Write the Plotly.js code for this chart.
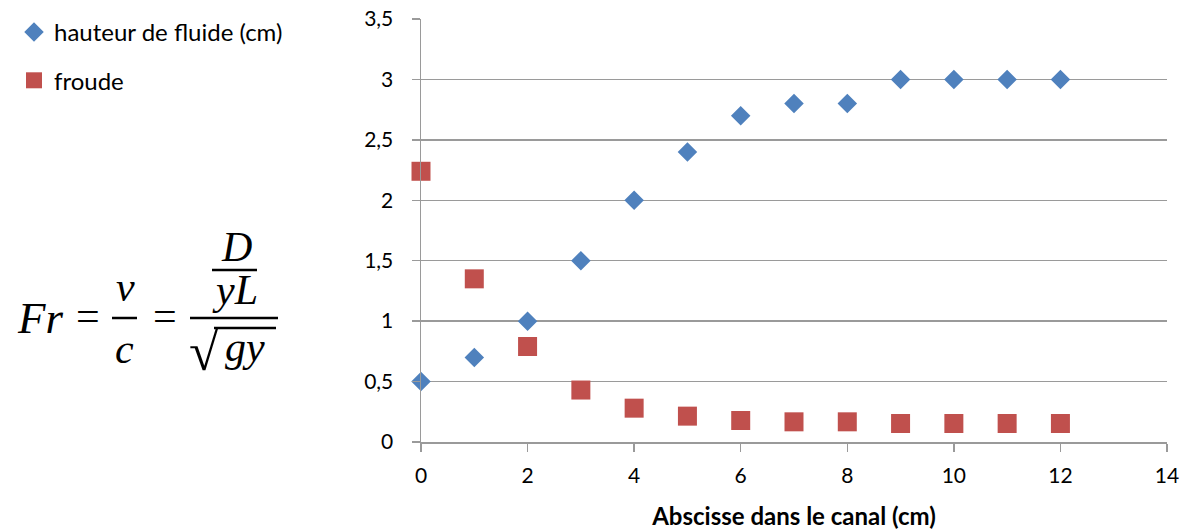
<!DOCTYPE html>
<html>
<head>
<meta charset="utf-8">
<script src="https://cdn.plot.ly/plotly-3.0.1.min.js"></script>
<style>
  html, body { margin: 0; padding: 0; background: #fff; }
  #chart { width: 1185px; height: 531px; }
</style>
</head>
<body>
<div id="chart"></div>
<script>
// Position along the channel (cm)
const abscisse = [0, 1, 2, 3, 4, 5, 6, 7, 8, 9, 10, 11, 12];
// Fluid height (cm)
const hauteur = [0.5, 0.7, 1.0, 1.5, 2.0, 2.4, 2.7, 2.8, 2.8, 3.0, 3.0, 3.0, 3.0];
// Froude number
const froude = [2.24, 1.35, 0.79, 0.43, 0.28, 0.214, 0.178, 0.167, 0.167, 0.153, 0.153, 0.153, 0.153];

const seriesNames = ['hauteur de fluide (cm)', 'froude'];
const xTitle = 'Abscisse dans le canal (cm)';

const W = 1185, H = 531;
const M = { l: 421, r: 18, t: 19, b: 89, autoexpand: false };
const PW = W - M.l - M.r, PH = H - M.t - M.b;
// pixel -> paper coordinates (for the formula on the left)
const px = x => (x - M.l) / PW;
const py = y => (H - M.b - y) / PH;

const mathFont = { family: 'Liberation Serif, DejaVu Serif, serif', size: 42, color: '#000' };

function mathText(text, x, y, size) {
  return {
    xref: 'paper', yref: 'paper', x: px(x), y: py(y),
    xanchor: 'center', yanchor: 'middle', showarrow: false,
    text: text,
    font: Object.assign({}, mathFont, size ? { size: size } : {})
  };
}
function bar(x0, x1, y, w) {
  return {
    type: 'line', xref: 'paper', yref: 'paper',
    x0: px(x0), x1: px(x1), y0: py(y), y1: py(y),
    line: { color: '#000', width: w || 2.5 }
  };
}

const traces = [
  {
    x: abscisse, y: hauteur, name: seriesNames[0], type: 'scatter', mode: 'markers',
    legendgroup: 'a', cliponaxis: false,
    marker: { symbol: 'diamond', size: 15, color: '#4F81BD' }
  },
  {
    x: abscisse, y: froude, name: seriesNames[1], type: 'scatter', mode: 'markers',
    legendgroup: 'b', cliponaxis: false,
    marker: { symbol: 'square', size: 19, color: '#C0504D' }
  }
];

const layout = {
  width: W, height: H,
  margin: M,
  paper_bgcolor: '#fff', plot_bgcolor: '#fff',
  separators: ', ',
  font: { family: 'Lato, Open Sans, sans-serif', size: 21, color: '#000' },
  showlegend: true,
  legend: {
    x: px(14), xanchor: 'left', y: py(10), yanchor: 'top',
    traceorder: 'grouped', tracegroupgap: 14,
    font: { family: 'Lato, sans-serif', size: 24, color: '#000' },
    bgcolor: 'rgba(0,0,0,0)'
  },
  xaxis: {
    range: [0, 14], dtick: 2, tick0: 0,
    showgrid: false, zeroline: false,
    showline: true, linecolor: '#9a9a9a', linewidth: 1.5,
    ticks: 'outside', ticklen: 8, tickcolor: '#9a9a9a', tickwidth: 1.5,
    ticklabelstandoff: 6,
    tickfont: { family: 'Lato, sans-serif', size: 21, color: '#000' },
    title: { text: '<b>' + xTitle + '</b>', standoff: 22,
             font: { family: 'Lato, sans-serif', size: 24, color: '#000' } }
  },
  yaxis: {
    range: [0, 3.5], dtick: 0.5, tick0: 0,
    showgrid: true, gridcolor: '#9a9a9a', gridwidth: 1.5,
    zeroline: false,
    showline: true, linecolor: '#9a9a9a', linewidth: 1.5,
    ticks: 'outside', ticklen: 8, tickcolor: '#9a9a9a', tickwidth: 1.5,
    ticklabelstandoff: 14,
    tickfont: { family: 'Lato, sans-serif', size: 21, color: '#000' }
  },
  annotations: [
    mathText('<i>Fr</i>', 40, 318, 45),
    mathText('=', 88, 316),
    mathText('<i>v</i>', 125, 287),
    mathText('<i>c</i>', 124, 349),
    mathText('=', 165, 316),
    mathText('<i>D</i>', 236, 247),
    mathText('<i>yL</i>', 235, 290),
    mathText('√', 204, 352, 54),
    mathText('<i>gy</i>', 245, 347)
  ],
  shapes: [
    bar(112, 137, 318),
    bar(190, 278, 318),
    bar(212, 257, 270),
    bar(214, 276, 328)
  ]
};

Plotly.newPlot('chart', traces, layout, { displayModeBar: false, staticPlot: true });
</script>
</body>
</html>
